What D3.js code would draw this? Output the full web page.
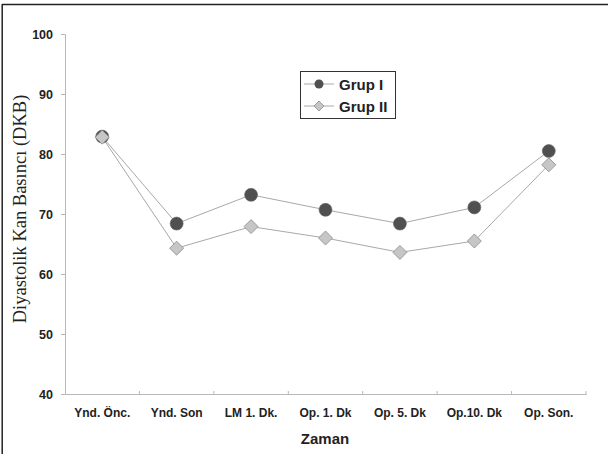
<!DOCTYPE html>
<html><head><meta charset="utf-8">
<script src="https://cdn.jsdelivr.net/npm/d3@7/dist/d3.min.js"></script>
<style>body{margin:0;background:#fff}svg{display:block}</style>
</head><body>
<script>
const categories = ["Ynd. Önc.", "Ynd. Son", "LM 1. Dk.", "Op. 1. Dk", "Op. 5. Dk", "Op.10. Dk", "Op. Son."];
const grupI = [82.9, 68.4, 73.2, 70.7, 68.4, 71.1, 80.5];
const grupII = [82.8, 64.3, 67.9, 66.0, 63.6, 65.5, 78.2];
const yTicks = [40, 50, 60, 70, 80, 90, 100];
const seriesNames = ["Grup I", "Grup II"];

const W = 608, H = 454;
const svg = d3.select("body").append("svg").attr("width", W).attr("height", H);

// outer border (top and left visible)
svg.append("line").attr("x1", 2).attr("x2", W).attr("y1", 4.5).attr("y2", 4.5).attr("stroke", "#222").attr("stroke-width", 1.5);
svg.append("line").attr("x1", 2.2).attr("x2", 2.2).attr("y1", 4).attr("y2", H).attr("stroke", "#222").attr("stroke-width", 1.5);

const x = d3.scaleBand().domain(categories).range([65, 586]);
const y = d3.scaleLinear().domain([40, 100]).range([394, 34]);
const axisColor = "#b8b8b8";

// y axis
const yAxis = svg.append("g").attr("transform", "translate(65,0)")
  .call(d3.axisLeft(y).tickValues(yTicks).tickSize(4).tickPadding(8));
yAxis.select(".domain").attr("stroke", axisColor);
yAxis.selectAll(".tick line").attr("stroke", axisColor);
yAxis.selectAll(".tick text").attr("font-family", "Liberation Sans, Arial, sans-serif")
  .attr("font-weight", "bold").attr("font-size", 12.5).attr("fill", "#222");

// x axis
const xAxis = svg.append("g").attr("transform", "translate(0,394)")
  .call(d3.axisBottom(x).tickSize(0).tickPadding(14));
xAxis.select(".domain").attr("stroke", axisColor);
xAxis.selectAll(".tick text").attr("font-family", "Liberation Sans, Arial, sans-serif")
  .attr("font-weight", "bold").attr("font-size", 12).attr("fill", "#222");
// category boundary ticks
const bounds = categories.map(c => x(c)).concat([x.range()[1]]);
svg.append("g").selectAll("line").data(bounds.slice(1)).join("line")
  .attr("x1", d => d).attr("x2", d => d).attr("y1", 391).attr("y2", 395)
  .attr("stroke", axisColor);

// axis titles
svg.append("text").attr("x", 325).attr("y", 444).attr("text-anchor", "middle")
  .attr("font-family", "Liberation Sans, Arial, sans-serif").attr("font-weight", "bold")
  .attr("font-size", 15).attr("fill", "#222").text("Zaman");
svg.append("text").attr("transform", "translate(26,209) rotate(-90)").attr("text-anchor", "middle")
  .attr("font-family", "Liberation Serif, Times New Roman, serif")
  .attr("font-size", 18.5).attr("fill", "#222").text("Diyastolik Kan Basıncı (DKB)");

const cx = c => x(c) + x.bandwidth() / 2;
const line = d3.line().x((d, i) => cx(categories[i])).y(d => y(d));
const lineColor = "#a8a8a8";

svg.append("path").datum(grupI).attr("d", line).attr("fill", "none").attr("stroke", lineColor).attr("stroke-width", 1);
svg.append("path").datum(grupII).attr("d", line).attr("fill", "none").attr("stroke", lineColor).attr("stroke-width", 1);

const diamond = (s) => `M0,${-s}L${s},0L0,${s}L${-s},0Z`;

svg.append("g").selectAll("circle").data(grupI).join("circle")
  .attr("cx", (d, i) => cx(categories[i])).attr("cy", d => y(d)).attr("r", 6.5)
  .attr("fill", "#505050").attr("stroke", "#666").attr("stroke-width", 0.6);
svg.append("g").selectAll("path").data(grupII).join("path")
  .attr("transform", (d, i) => `translate(${cx(categories[i])},${y(d)})`)
  .attr("d", diamond(7)).attr("fill", "#c6c6c6").attr("stroke", "#8a8a8a").attr("stroke-width", 0.8);

// legend
const lg = svg.append("g");
lg.append("rect").attr("x", 300.5).attr("y", 71.5).attr("width", 95).attr("height", 47)
  .attr("fill", "#fff").attr("stroke", "#333").attr("stroke-width", 1);
seriesNames.forEach((name, i) => {
  const yy = 84 + i * 22;
  lg.append("line").attr("x1", 304).attr("x2", 334).attr("y1", yy).attr("y2", yy).attr("stroke", lineColor);
  if (i === 0) {
    lg.append("circle").attr("cx", 319).attr("cy", yy).attr("r", 4.5).attr("fill", "#505050");
  } else {
    lg.append("path").attr("transform", `translate(319,${yy})`).attr("d", diamond(5))
      .attr("fill", "#c6c6c6").attr("stroke", "#8a8a8a").attr("stroke-width", 0.8);
  }
  lg.append("text").attr("x", 339).attr("y", yy + 5.5).attr("font-family", "Liberation Sans, Arial, sans-serif")
    .attr("font-weight", "bold").attr("font-size", 15).attr("fill", "#222").text(name);
});
</script>
</body></html>
